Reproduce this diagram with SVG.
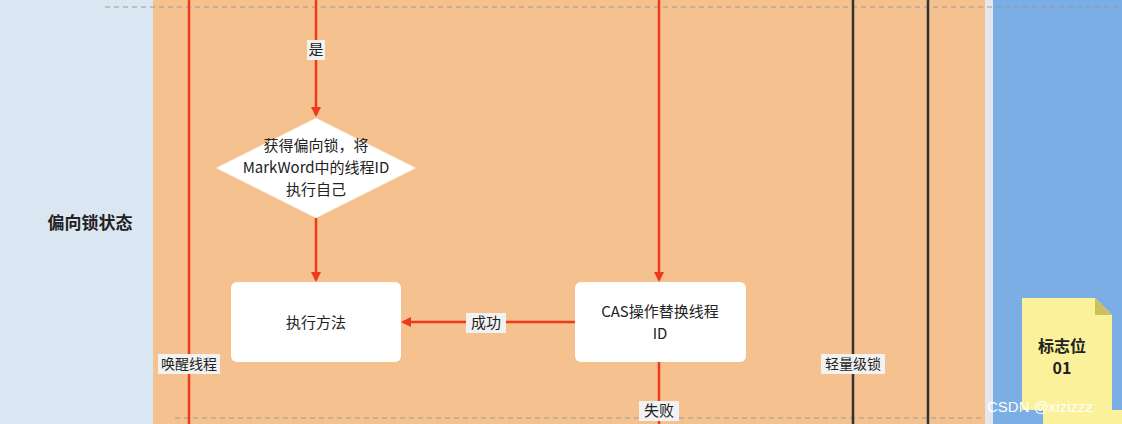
<svg xmlns="http://www.w3.org/2000/svg" width="1122" height="424" viewBox="0 0 1122 424">
<style>
text{font-family:"Noto Sans CJK SC","Liberation Sans",sans-serif;font-size:15px;fill:#222;text-anchor:middle}
.r{stroke:#ee3a1c;stroke-width:2.5;fill:none}
.k{stroke:#333;stroke-width:2.5}
.lbl{fill:#f2f2f2}
.box{fill:#fff;rx:6}
</style>
<defs><marker id="a" markerWidth="10" markerHeight="10" refX="8" refY="5" orient="auto" markerUnits="userSpaceOnUse"><path d="M0,0 L10,5 L0,10 z" fill="#ee3a1c"/></marker></defs>
<rect width="1122" height="424" fill="#dbe6f3"/>
<rect x="153" width="832" height="424" fill="#f5c18f"/>
<rect x="985" width="8" height="424" fill="#e4e8ee"/>
<rect x="993" width="129" height="424" fill="#7aaee4"/>
<line x1="105" y1="7" x2="1122" y2="7" stroke="#999" stroke-dasharray="5,4"/>
<line x1="175" y1="418" x2="985" y2="418" stroke="#999" stroke-dasharray="5,4"/>
<text x="90" y="229" style="font-weight:bold;font-size:17px">偏向锁状态</text>
<g id="connectors">
<line class="r" x1="189" y1="0" x2="189" y2="424"/>
<line class="r" x1="316" y1="0" x2="316" y2="115" marker-end="url(#a)"/>
<line class="r" x1="316" y1="218" x2="316" y2="280" marker-end="url(#a)"/>
<line class="r" x1="659" y1="0" x2="659" y2="280" marker-end="url(#a)"/>
<line class="r" x1="575" y1="322" x2="403" y2="322" marker-end="url(#a)"/>
<line class="r" x1="659" y1="362" x2="659" y2="424"/>
<line class="k" x1="853" y1="0" x2="853" y2="424"/>
<line class="k" x1="928" y1="0" x2="928" y2="424"/>
<rect class="lbl" x="307" y="40" width="18" height="20"/><text x="316" y="55">是</text>
<rect class="lbl" x="466" y="313" width="40" height="20"/><text x="486" y="328">成功</text>
<rect class="lbl" x="639" y="401" width="40" height="20"/><text x="659" y="416">失败</text>
<rect class="lbl" x="158" y="354" width="62" height="20" fill="#f2f2f2"/><text x="189" y="369" style="font-size:14px">唤醒线程</text>
<rect class="lbl" x="821" y="354" width="64" height="20"/><text x="853" y="369" style="font-size:14px">轻量级锁</text>
</g>
<g id="diamond"><polygon points="316,118 416,168 316,218 216,168" fill="#fff"/>
<text x="316" y="151">获得偏向锁，将</text><text x="316" y="173">MarkWord中的线程ID</text><text x="316" y="195">执行自己</text></g>
<g id="exec"><rect class="box" x="231" y="282" width="170" height="80"/><text x="316" y="328">执行方法</text></g>
<g id="cas"><rect class="box" x="575" y="282" width="171" height="80"/><text x="660" y="317">CAS操作替换线程</text><text x="660" y="339">ID</text></g>
<g id="note"><path d="M1022,298 H1095 L1112,315 V410 H1022 Z" fill="#fbf19a"/><path d="M1095,298 V315 H1112 Z" fill="#cdbf5a"/>
<text x="1062" y="352" style="font-weight:bold;font-size:16px">标志位</text><text x="1062" y="374" style="font-weight:bold;font-size:16px">01</text></g>
<path d="M1043,410 H1122 V424 H1043 Z" fill="#fbf19a"/>
<text x="1040" y="412" style="fill:#fff;font-size:15px;font-family:'Liberation Sans',sans-serif">CSDN @xizizzz</text>
</svg>
